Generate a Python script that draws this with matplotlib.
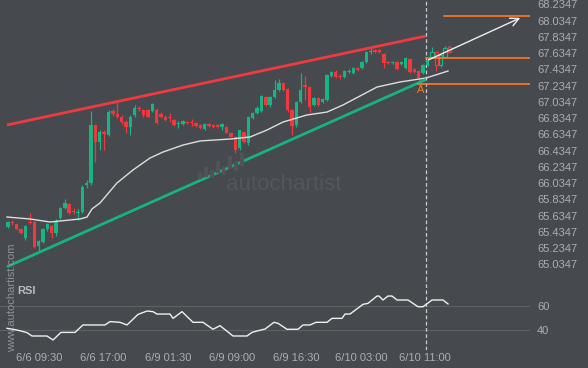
import matplotlib
matplotlib.use("Agg")
import matplotlib.pyplot as plt
import numpy as np

# ---------------- data ----------------
opens = [65.490, 65.558, 65.526, 65.465, 65.354, 65.555, 65.551, 65.259, 65.312, 65.465,
         65.506, 65.419, 65.604, 65.727, 65.776, 65.694, 65.665, 65.681, 66.010, 66.038,
         66.749, 66.543, 66.662, 66.626, 66.921, 66.884, 66.847, 66.786, 66.728, 66.872,
         66.962, 66.933, 66.933, 66.924, 66.933, 66.884, 66.851, 66.851, 66.810, 66.757,
         66.757, 66.789, 66.789, 66.777, 66.749, 66.696, 66.757, 66.749, 66.749, 66.724,
         66.728, 66.654, 66.605, 66.466, 66.662, 66.527, 66.835, 66.896, 66.921, 67.093,
         66.989, 67.093, 67.179, 67.266, 67.192, 66.933, 66.749, 67.032, 67.241, 67.216,
         66.995, 67.081, 67.032, 67.056, 67.352, 67.401, 67.352, 67.339, 67.401, 67.389,
         67.450, 67.450, 67.524, 67.647, 67.672, 67.672, 67.622, 67.530, 67.512, 67.524,
         67.499, 67.450, 67.561, 67.438, 67.413, 67.389, 67.487, 67.586, 67.647, 67.487,
         67.586, 67.709]
closes = [65.558, 65.539, 65.469, 65.416, 65.506, 65.542, 65.251, 65.321, 65.469, 65.526,
          65.423, 65.567, 65.727, 65.789, 65.669, 65.678, 65.684, 65.985, 66.035, 66.749,
          66.543, 66.666, 66.638, 66.912, 66.884, 66.847, 66.786, 66.724, 66.847, 66.954,
          66.942, 66.872, 66.853, 67.007, 66.770, 66.851, 66.810, 66.831, 66.749, 66.777,
          66.798, 66.770, 66.770, 66.736, 66.708, 66.757, 66.736, 66.720, 66.728, 66.761,
          66.654, 66.605, 66.441, 66.681, 66.539, 66.847, 66.896, 66.958, 67.106, 66.995,
          67.093, 67.179, 67.266, 67.179, 66.933, 66.736, 67.032, 67.179, 67.216, 66.970,
          67.081, 66.995, 67.069, 67.364, 67.401, 67.339, 67.339, 67.413, 67.419, 67.450,
          67.426, 67.524, 67.647, 67.659, 67.641, 67.647, 67.512, 67.512, 67.530, 67.438,
          67.524, 67.573, 67.401, 67.401, 67.327, 67.487, 67.549, 67.647, 67.487, 67.610,
          67.696, 67.647]
highs = [65.567, 65.579, 65.536, 65.475, 65.518, 65.662, 65.561, 65.333, 65.481, 65.542,
         65.518, 65.592, 65.739, 65.838, 65.789, 65.727, 65.715, 66.010, 66.072, 66.924,
         66.761, 66.687, 66.687, 66.933, 66.946, 67.035, 66.872, 66.810, 66.872, 66.995,
         66.982, 66.946, 66.946, 67.023, 66.958, 66.909, 66.872, 66.900, 66.822, 66.798,
         66.814, 66.798, 66.819, 66.786, 66.761, 66.773, 66.773, 66.761, 66.761, 66.770,
         66.736, 66.662, 66.613, 66.687, 66.675, 66.859, 66.909, 66.982, 67.118, 67.106,
         67.106, 67.302, 67.315, 67.278, 67.204, 66.946, 67.044, 67.389, 67.352, 67.229,
         67.093, 67.093, 67.081, 67.376, 67.413, 67.426, 67.376, 67.426, 67.438, 67.462,
         67.462, 67.536, 67.659, 67.696, 67.684, 67.684, 67.635, 67.536, 67.536, 67.536,
         67.536, 67.586, 67.573, 67.450, 67.426, 67.499, 67.561, 67.709, 67.659, 67.622,
         67.721, 67.733]
lows = [65.481, 65.524, 65.456, 65.401, 65.339, 65.530, 65.235, 65.192, 65.296, 65.450,
        65.358, 65.382, 65.592, 65.715, 65.653, 65.653, 65.579, 65.665, 65.973, 66.010,
        66.293, 66.441, 66.441, 66.613, 66.859, 66.835, 66.761, 66.650, 66.626, 66.847,
        66.921, 66.847, 66.841, 66.912, 66.761, 66.835, 66.798, 66.789, 66.736, 66.708,
        66.749, 66.761, 66.736, 66.724, 66.699, 66.687, 66.724, 66.712, 66.712, 66.687,
        66.650, 66.601, 66.400, 66.441, 66.527, 66.502, 66.822, 66.884, 66.909, 66.982,
        66.970, 67.081, 67.167, 67.167, 66.909, 66.626, 66.724, 67.019, 67.056, 66.909,
        66.982, 66.982, 67.019, 67.044, 67.339, 67.327, 67.315, 67.327, 67.389, 67.376,
        67.413, 67.438, 67.512, 67.622, 67.635, 67.635, 67.450, 67.499, 67.499, 67.426,
        67.487, 67.438, 67.389, 67.389, 67.278, 67.376, 67.475, 67.573, 67.413, 67.462,
        67.573, 67.635]
hollow_from = 97   # candles after the pattern point are drawn hollow

ma_x = [-0.23, 5.03, 9.61, 16.48, 18.08, 19.22, 21.05, 24.94, 28.60, 32.49, 35.47, 40.05,
        43.94, 50.80, 55.38, 59.27, 62.93, 68.42, 73.00, 76.66, 84.44, 89.70, 95.65, 100.69]
ma_y = [65.616, 65.592, 65.555, 65.592, 65.616, 65.715, 65.789, 66.035, 66.195, 66.342,
        66.416, 66.502, 66.552, 66.576, 66.601, 66.687, 66.785, 66.872, 66.908, 66.995,
        67.216, 67.278, 67.327, 67.413]

rsi_x = [-0.23, 1.14, 2.75, 4.35, 5.49, 8.92, 10.30, 12.13, 15.33, 17.16, 22.20, 23.34,
         25.63, 27.23, 29.75, 31.81, 33.18, 34.10, 37.07, 37.76, 39.82, 42.33, 44.62, 46.91,
         48.51, 51.49, 54.69, 55.84, 57.21, 58.81, 60.87, 61.78, 63.84, 66.36, 67.51, 69.11,
         70.48, 73.00, 74.14, 76.43, 77.12, 78.26, 81.24, 82.38, 84.44, 84.90, 85.81, 86.96,
         87.87, 89.02, 91.53, 93.82, 94.97, 97.03, 99.54, 100.69]
rsi_y = [41.4, 40.6, 39.4, 37.8, 35.0, 35.0, 31.7, 38.0, 38.0, 44.2, 44.2, 47.0,
         46.4, 44.2, 53.0, 55.8, 55.3, 53.3, 53.3, 49.7, 55.3, 46.4, 46.4, 40.6,
         43.6, 35.0, 35.0, 38.0, 39.4, 40.8, 46.4, 45.6, 40.6, 40.6, 44.2, 44.2,
         46.4, 46.4, 49.7, 49.7, 53.3, 53.3, 61.4, 62.2, 68.3, 68.3, 65.0, 68.3,
         68.3, 65.0, 65.0, 59.4, 59.4, 65.0, 65.0, 61.7]

resist_x = [-0.23, 95.65]
resist_y = [66.749, 67.844]
support_x = [-0.23, 95.65]
support_y = [65.004, 67.309]
levels = [68.090, 67.569, 67.249]
levels_start = [99.8, 95.65, 93.8]
arrow_from = (95.65, 67.536)
arrow_to = (117.8, 68.081)
pattern_x = 95.65

ytick_vals = [65.0347 + 0.2 * k for k in range(17)]
xtick_pos = [7.09, 21.7, 36.6, 51.3, 65.9, 80.8, 95.4]
xtick_labels = ["6/6 09:30", "6/6 17:00", "6/9 01:30", "6/9 09:00", "6/9 16:30",
                "6/10 03:00", "6/10 11:00"]

# ---------------- style ----------------
bg = "#46494e"
up_c = "#18b584"
dn_c = "#f0383d"
txt_c = "#abaeb3"
plt.rcParams["font.family"] = ["Liberation Sans", "DejaVu Sans"]

W, H = 588, 368
fig = plt.figure(figsize=(W / 100, H / 100), dpi=100, facecolor=bg)
ax = fig.add_axes([0, (H - 280) / H, 530 / W, 280 / H], facecolor=bg)
ax2 = fig.add_axes([0, (H - 350) / H, 530 / W, 70 / H], facecolor=bg, sharex=ax)

for a in (ax, ax2):
    for s in a.spines.values():
        s.set_visible(False)

# watermark
fig.text(284 / W, 1 - 185 / H, "autochartist", color="#53575c", fontsize=16,
         ha="center", va="center", zorder=0)
logo_bottom = [178, 176, 177, 172, 174, 168, 170, 165]
logo_h = [6, 9, 7, 11, 8, 12, 9, 12]
for k, (b, hgt) in enumerate(zip(logo_bottom, logo_h)):
    fig.patches.append(plt.Rectangle(((198 + k * 6) / W, (H - b) / H), 2.5 / W, hgt / H,
                                     transform=fig.transFigure, color="#505459", zorder=0))
fig.text(12 / W, 1 - 298 / H, "www.autochartist.com", rotation=90, color="#8e9196",
         fontsize=8, ha="center", va="center")

# candles
n = len(opens)
for i in range(n):
    o, c, h, l = opens[i], closes[i], highs[i], lows[i]
    col = up_c if c >= o else dn_c
    ax.vlines(i, l, h, color=col, lw=0.9, zorder=3)
    bottom = min(o, c)
    height = max(abs(c - o), 0.004)
    if i >= hollow_from:
        ax.bar(i, height, bottom=bottom, width=0.78, facecolor=bg, edgecolor=col,
               linewidth=0.9, zorder=4)
    else:
        ax.bar(i, height, bottom=bottom, width=0.78, color=col, zorder=4)

ax.plot(ma_x, ma_y, color="#dedede", lw=1.0, zorder=5)
ax.plot(resist_x, resist_y, color="#ef3b40", lw=2, zorder=6, solid_capstyle="butt")
ax.plot(support_x, support_y, color="#17b482", lw=2, zorder=6, solid_capstyle="butt")
for lv, xs in zip(levels, levels_start):
    ax.plot([xs, 119.45], [lv, lv], color="#ff7a1f", lw=1.2, zorder=6)
ax.annotate("", xy=arrow_to, xytext=arrow_from,
            arrowprops=dict(arrowstyle="->,head_length=0.6,head_width=0.3",
                            color="#eeeeee", lw=1.0), zorder=7)
ax.text(94.5, 67.175, "A", color="#ff7a1f", fontsize=8, ha="center", va="center")
ax.axvline(pattern_x, color="#c9cbce", lw=0.9, ls=(0, (3, 2)), zorder=2)
ax2.axvline(pattern_x, color="#c9cbce", lw=0.9, ls=(0, (3, 2)), zorder=2)

ax.set_xlim(-1.83, 119.45)
ax.set_ylim(64.841, 68.287)
ax.yaxis.tick_right()
ax.set_yticks(ytick_vals)
ax.set_yticklabels([f"{v:.4f}" for v in ytick_vals])
ax.tick_params(axis="y", length=0, pad=5, labelsize=8, labelcolor=txt_c)
ax.tick_params(axis="x", bottom=False, labelbottom=False)

# RSI
ax2.axhline(60, color="#5d6166", lw=0.8, zorder=1)
ax2.axhline(40, color="#5d6166", lw=0.8, zorder=1)
ax2.plot(rsi_x, rsi_y, color="#f0f0f0", lw=1.0, zorder=3)
ax2.set_ylim(23.33, 81.67)
ax2.yaxis.tick_right()
ax2.set_yticks([40, 60])
ax2.set_yticklabels(["40", "60"])
ax2.tick_params(axis="y", length=0, pad=5, labelsize=8, labelcolor=txt_c)
ax2.set_xticks(xtick_pos)
ax2.set_xticklabels(xtick_labels)
ax2.tick_params(axis="x", length=0, pad=2, labelsize=8, labelcolor=txt_c)
fig.text(17 / W, 1 - 291 / H, "RSI", color="#b9bcc0", fontsize=8, fontweight="bold",
         ha="left", va="center")

fig.savefig("out.png", dpi=100, facecolor=bg)
